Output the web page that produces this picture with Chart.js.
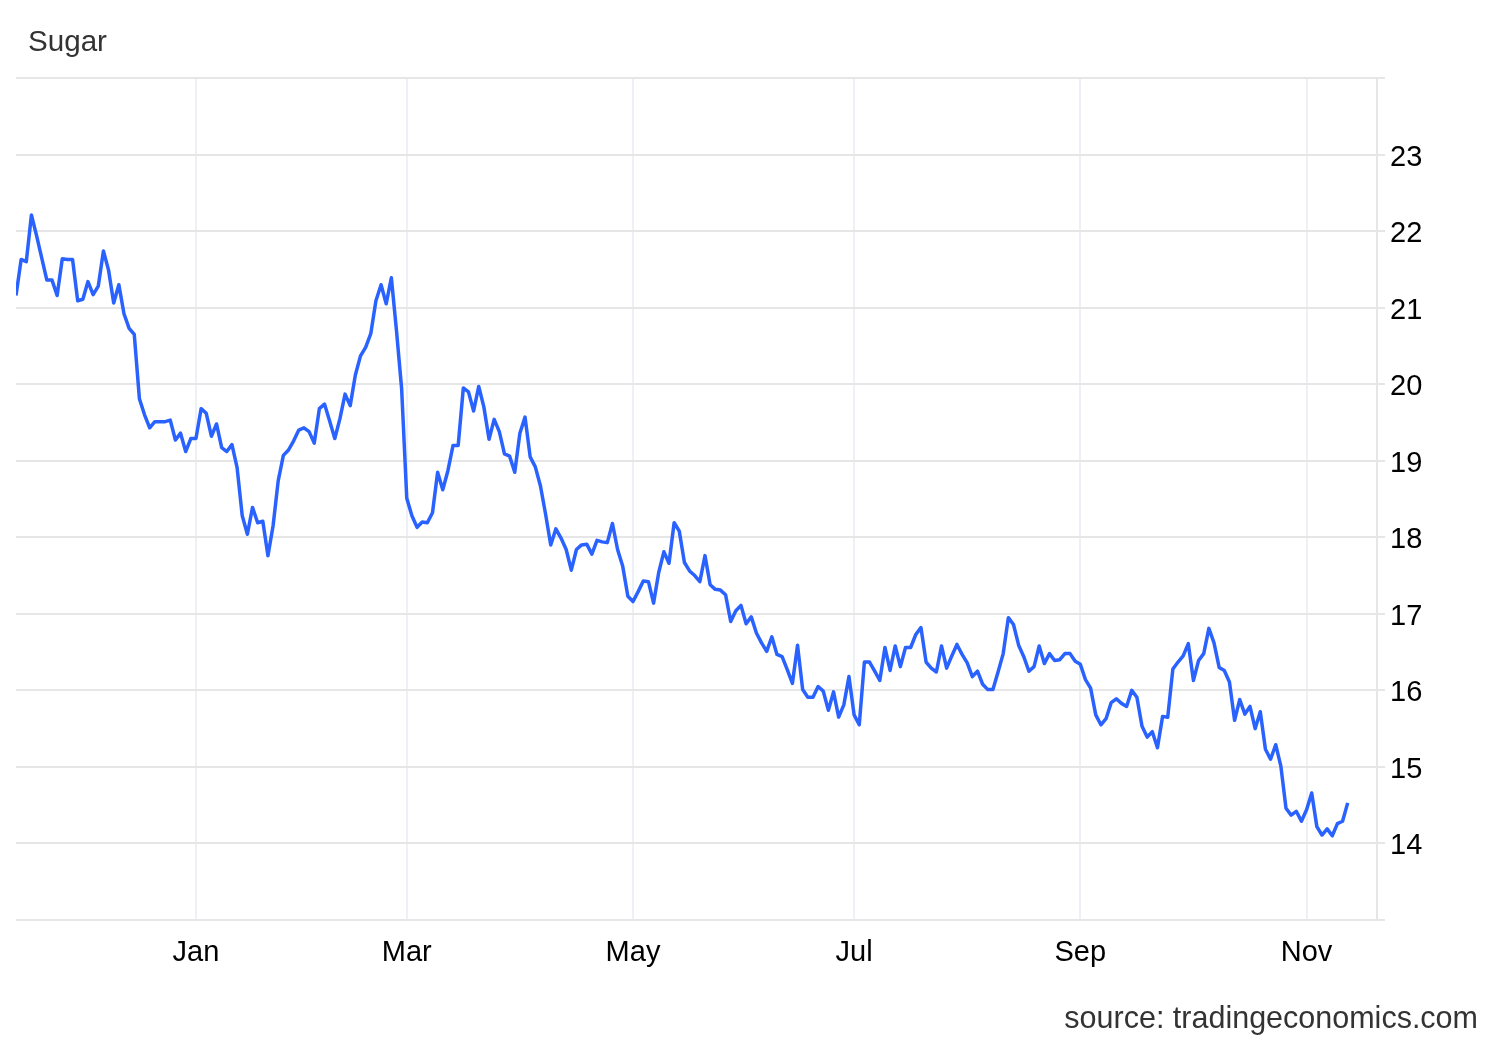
<!DOCTYPE html>
<html>
<head>
<meta charset="utf-8">
<title>Sugar</title>
<script src="https://cdn.jsdelivr.net/npm/chart.js@4.4.1/dist/chart.umd.min.js"></script>
<style>
    body { margin: 0; background: #fff; }
    #wrap { position: relative; width: 1500px; height: 1040px; }
    .txt { position: absolute; font-family: 'Liberation Sans', Arial, sans-serif; color: #333; white-space: nowrap; line-height: 1; }
    #title { left: 28px; top: 26px; font-size: 29.6px; }
    #source { right: 22px; top: 1002px; font-size: 30.5px; }
</style>
</head>
<body>
<div id="wrap">
    <canvas id="sugarChart" width="1500" height="1040"></canvas>
    <div id="title" class="txt">Sugar</div>
    <div id="source" class="txt">source: tradingeconomics.com</div>
</div>
<script>
// daily closes, mid Nov to mid Nov (one value per trading day)
const prices = [
    21.16, 21.63, 21.60, 22.21, 21.94, 21.65, 21.36, 21.36, 21.16, 21.64,
    21.63, 21.63, 21.09, 21.11, 21.34, 21.17, 21.28, 21.74, 21.49, 21.06,
    21.30, 20.92, 20.73, 20.65, 19.81, 19.60, 19.43, 19.51, 19.51, 19.51,
    19.53, 19.27, 19.36, 19.12, 19.29, 19.29, 19.68, 19.62, 19.32, 19.48,
    19.17, 19.12, 19.21, 18.91, 18.28, 18.04,
    18.39, 18.19, 18.21, 17.76, 18.15, 18.74, 19.07, 19.14, 19.26, 19.40,
    19.43, 19.38, 19.23, 19.68, 19.74, 19.52, 19.29, 19.55, 19.87, 19.72,
    20.12, 20.37, 20.48, 20.66, 21.09, 21.30, 21.05, 21.39, 20.70, 19.94,
    18.51, 18.28, 18.13, 18.20, 18.19, 18.32, 18.85, 18.62, 18.87, 19.20,
    19.20, 19.95, 19.90,
    19.65, 19.97, 19.70, 19.28, 19.54, 19.38, 19.09, 19.06, 18.85, 19.36,
    19.57, 19.05, 18.92, 18.67, 18.30, 17.90, 18.11, 17.99, 17.84, 17.57,
    17.84, 17.90, 17.91, 17.78, 17.96, 17.94, 17.93, 18.18, 17.84, 17.62,
    17.23, 17.16, 17.29, 17.43, 17.42, 17.14, 17.54, 17.81, 17.66, 18.19,
    18.08, 17.67, 17.56, 17.50, 17.42,
    17.76, 17.38, 17.32, 17.31, 17.25, 16.90, 17.04, 17.11, 16.87, 16.96,
    16.75, 16.62, 16.51, 16.70, 16.47, 16.44, 16.27, 16.09, 16.59, 16.01,
    15.91, 15.91, 16.05, 15.99, 15.74, 15.98, 15.65, 15.81, 16.18, 15.68,
    15.55, 16.37, 16.37, 16.25, 16.13, 16.56, 16.26, 16.58, 16.31, 16.56,
    16.56, 16.73, 16.82, 16.37,
    16.29, 16.24, 16.58, 16.29, 16.45, 16.60, 16.47, 16.36, 16.18, 16.25,
    16.08, 16.01, 16.01, 16.24, 16.48, 16.95, 16.86, 16.59, 16.44, 16.25,
    16.31, 16.58, 16.35, 16.48, 16.39, 16.40, 16.48, 16.48, 16.38, 16.34,
    16.14, 16.03, 15.68, 15.55, 15.63, 15.84, 15.89, 15.83, 15.79, 16.00,
    15.91, 15.53, 15.39, 15.46, 15.25,
    15.66, 15.65, 16.28, 16.37, 16.45, 16.61, 16.13, 16.39, 16.48, 16.81,
    16.62, 16.30, 16.26, 16.11, 15.61, 15.88, 15.69, 15.79, 15.50, 15.72,
    15.23, 15.10, 15.29, 15.01, 14.46, 14.37, 14.42, 14.29, 14.44, 14.66,
    14.22, 14.11, 14.19, 14.10, 14.26, 14.29, 14.53
];

// month ticks: label and trading-day index where the month starts
const monthLabels = ['Jan', 'Mar', 'May', 'Jul', 'Sep', 'Nov'];
const monthIndex = [35, 76, 120, 163, 207, 251];

const yMin = 13;
const yMax = 24;

const tickFont = { family: "'Liberation Sans', Arial, sans-serif", size: 29 };

const ctx = document.getElementById('sugarChart').getContext('2d');

new Chart(ctx, {
    type: 'line',
    data: {
        datasets: [{
            label: 'Sugar',
            data: prices.map((p, i) => ({ x: i, y: p })),
            borderColor: '#2962ff',
            borderWidth: 3.5,
            borderJoinStyle: 'round',
            pointRadius: 0,
            tension: 0,
            fill: false,
        }],
    },
    options: {
        responsive: false,
        devicePixelRatio: 1,
        animation: false,
        layout: { padding: { left: 16, top: 78, right: 0, bottom: 0 } },
        plugins: {
            legend: { display: false },
            tooltip: { enabled: false },
        },
        scales: {
            x: {
                type: 'linear',
                min: 0,
                max: 264.7,
                afterBuildTicks: (scale) => {
                    scale.ticks = monthIndex.map(v => ({ value: v }));
                },
                afterFit: (scale) => { scale.height = 120; },
                grid: { color: '#edf1f6', lineWidth: 2, drawTicks: false },
                border: { display: false },
                ticks: {
                    font: tickFont,
                    color: '#000',
                    padding: 16,
                    maxRotation: 0,
                    autoSkip: false,
                    callback: (value) => monthLabels[monthIndex.indexOf(value)],
                },
            },
            y: {
                position: 'right',
                min: yMin,
                max: yMax,
                afterFit: (scale) => { scale.width = 123; },
                grid: { color: '#e6e6e6', lineWidth: 2, tickLength: 8 },
                border: { display: true, color: '#e6e6e6', width: 2 },
                ticks: {
                    stepSize: 1,
                    font: tickFont,
                    color: '#000',
                    padding: 5,
                    labelOffset: 3,
                    callback: (value) => (value === yMin || value === yMax) ? '' : value,
                },
            },
        },
    },
});
</script>
</body>
</html>
